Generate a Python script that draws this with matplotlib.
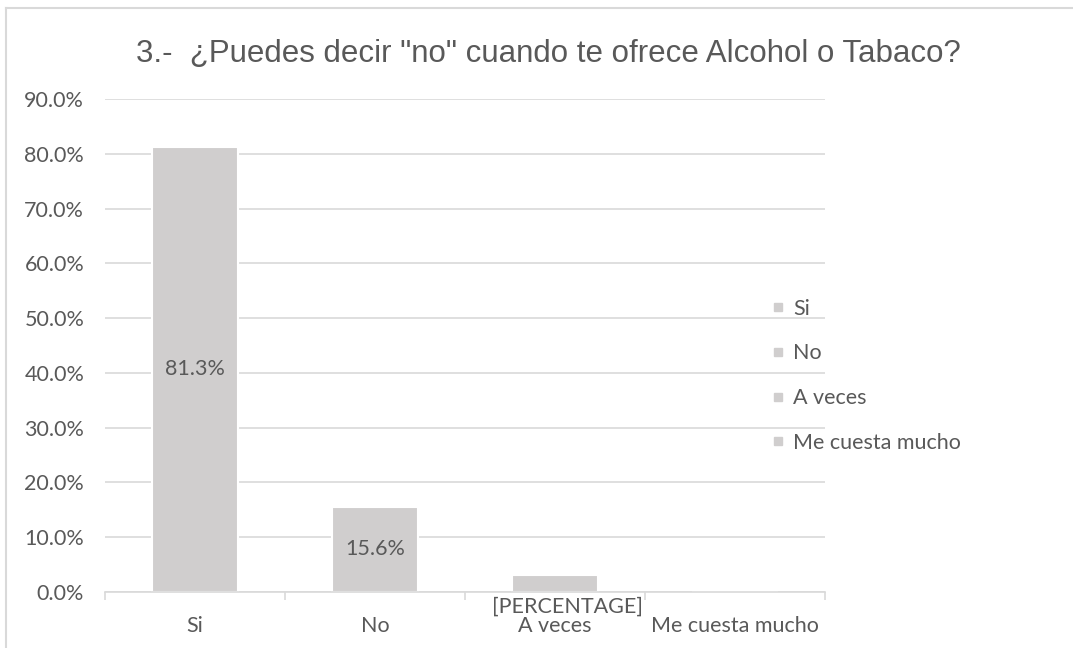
import matplotlib
matplotlib.use("Agg")
import matplotlib.pyplot as plt
from matplotlib.lines import Line2D
import numpy as np

# survey answers and share of responses
categories = ["Si", "No", "A veces", "Me cuesta mucho"]
shares = [0.813, 0.156, 0.031, 0.0]
bar_labels = ["81.3%", "15.6%", "[PERCENTAGE]", None]
y_ticks = [0.0, 0.1, 0.2, 0.3, 0.4, 0.5, 0.6, 0.7, 0.8, 0.9]
title = '3.-  ¿Puedes decir "no" cuando te ofrece Alcohol o Tabaco?'

TEXT = "#595959"
BAR = "#d0cece"
GRID = "#d9d9d9"
BODY_FONT = ["Lato", "DejaVu Sans"]
FS = 15.5

fig = plt.figure(figsize=(10.73, 6.48), dpi=100)
ax = fig.add_axes([0.0979, 0.0864, 0.769 - 0.0979, 0.8472 - 0.0864])

# thin outer frame of the chart area (left and top edges visible)
fig.add_artist(Line2D([0.0056, 0.0056], [0.0, 0.9877], transform=fig.transFigure,
                      color=GRID, lw=1.5))
fig.add_artist(Line2D([0.0056, 1.0], [0.9877, 0.9877], transform=fig.transFigure,
                      color=GRID, lw=1.5))

x = np.arange(len(categories))
bars = ax.bar(x, shares, width=0.48, color=BAR, edgecolor="white", linewidth=1.5, zorder=3)

ax.set_xlim(-0.5, len(categories) - 0.5)
ax.set_ylim(0, 0.9)
ax.set_yticks(y_ticks)
ax.set_yticklabels([f"{v * 100:.1f}%" for v in y_ticks], fontsize=FS, color=TEXT,
                   family=BODY_FONT)
ax.yaxis.grid(True, color=GRID, linewidth=1.2, zorder=0)
ax.tick_params(axis="y", length=0, pad=15)

# category boundaries carry the tick marks, names sit in the middle
ax.set_xticks(np.arange(len(categories) + 1) - 0.5)
ax.set_xticklabels([])
ax.tick_params(axis="x", which="major", length=6, color=GRID, width=1.2)
ax.set_xticks(x, minor=True)
ax.set_xticklabels(categories, minor=True, fontsize=FS, color=TEXT, family=BODY_FONT)
ax.tick_params(axis="x", which="minor", length=0, pad=17)

for s in ["top", "right", "left"]:
    ax.spines[s].set_visible(False)
ax.spines["bottom"].set_color(GRID)
ax.spines["bottom"].set_linewidth(1.2)
ax.spines["bottom"].set_zorder(5)

for xi, val, lab in zip(x, shares, bar_labels):
    if lab is None:
        continue
    if val > 0.1:
        ax.text(xi, val / 2, lab, ha="center", va="center", fontsize=FS,
                color=TEXT, family=BODY_FONT, zorder=4)
    else:
        ax.text(xi + 0.07, -0.027, lab, ha="center", va="center", fontsize=FS,
                color=TEXT, family=BODY_FONT, zorder=4, clip_on=False)

fig.text(0.511, 0.917, title, ha="center", va="center", fontsize=22.5, color=TEXT,
         family=["Liberation Sans", "DejaVu Sans"])

handles = [Line2D([], [], marker="s", linestyle="none", markersize=6,
                  markerfacecolor=BAR, markeredgecolor=BAR) for _ in categories]
fig.legend(handles, categories, loc="center left", bbox_to_anchor=(0.7, 0.42),
           frameon=False, prop={"family": BODY_FONT, "size": FS}, labelcolor=TEXT,
           labelspacing=1.15, handlelength=0.7, handletextpad=0.35)

fig.savefig("out.png", dpi=100)
